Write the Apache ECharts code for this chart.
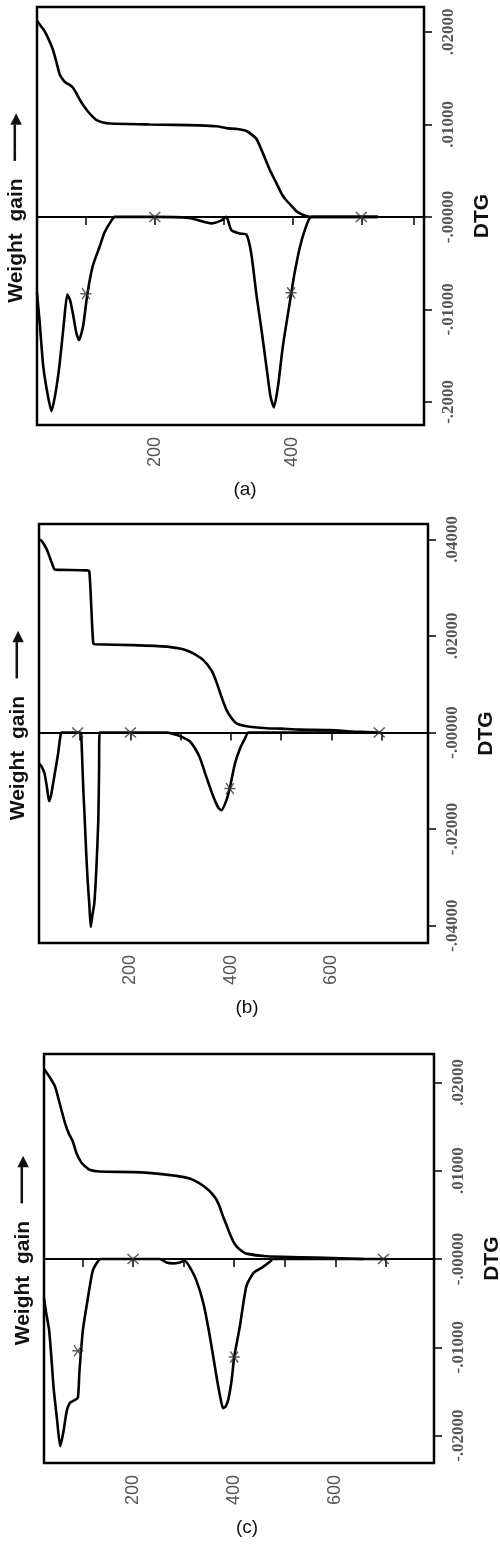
<!DOCTYPE html>
<html><head><meta charset="utf-8">
<script src="https://cdn.jsdelivr.net/npm/echarts@6/dist/echarts.min.js"></script>
<style>html,body{margin:0;padding:0;background:#fff}#c{width:500px;height:1560px}</style>
</head><body><div id="c"></div>
<script>
// ---------- Panel (a) ----------
const dtgA = [[29,-0.0082],[33,-0.0115],[38,-0.0161],[44,-0.019],[50,-0.021],[56,-0.019],[62,-0.0158],[68,-0.0115],[73,-0.0084],[77,-0.009],[81,-0.0104],[86,-0.0125],[90,-0.0133],[96,-0.0118],[102,-0.0084],[110,-0.0053],[120,-0.0032],[127,-0.0017],[137,-0.0004],[142,0],[200,0],[250,-0.0001],[265,-0.0004],[282,-0.0007],[296,-0.0004],[304,0],[311,-0.0014],[323,-0.0018],[333,-0.0019],[340,-0.0039],[348,-0.0086],[355,-0.0122],[362,-0.0161],[368,-0.0194],[373,-0.0206],[379,-0.0183],[386,-0.014],[396,-0.0093],[403,-0.0061],[411,-0.0032],[418,-0.0014],[425,-0.0001],[430,0],[524,0]];
const tgA = [[29,0.0212],[35,0.0206],[40,0.0201],[46,0.0192],[52,0.0181],[57,0.0168],[62,0.0154],[67,0.0148],[71,0.0145],[76,0.0143],[81,0.014],[86,0.0134],[91,0.0127],[97,0.012],[103,0.0114],[109,0.0109],[115,0.0105],[125,0.0102],[135,0.0101],[193,0.01],[265,0.0099],[290,0.0098],[304,0.0096],[320,0.0095],[333,0.0093],[341,0.0089],[348,0.0084],[357,0.0069],[367,0.0051],[377,0.0036],[385,0.0024],[391,0.0018],[401,0.001],[406,0.0006],[413,0.0003],[420,0.0001],[428,0],[524,0]];
const crossA = [[200,0],[500,0]];
const starA = [[100,-0.0083],[398,-0.0082]];
const tempRangeA = [29, 591];
const dtgRangeA = [-0.0225, 0.0227];
const tempTicksA = [29,100,200,300,400,500,576];
const tempLabelsA = [200,400];
const dtgTicksA = [-0.02,-0.01,0,0.01,0.02];
const dtgLabelsA = ['-.2000','-.01000','-.00000','.01000','.02000'];

// ---------- Panel (b) ----------
const dtgB = [[18,-0.0064],[24,-0.0072],[29,-0.0085],[34,-0.0115],[38,-0.0142],[42,-0.013],[46,-0.0106],[51,-0.0075],[56,-0.0044],[60,-0.0012],[63,0],[100,0],[102,-0.0005],[106,-0.0113],[109,-0.018],[112,-0.0251],[115,-0.031],[118,-0.0354],[121,-0.0403],[124,-0.038],[128,-0.0354],[132,-0.0285],[136,-0.0182],[137.5,-0.008],[138.5,0],[272,0],[285,-0.0003],[298,-0.0007],[308,-0.0012],[318,-0.0018],[328,-0.0032],[338,-0.0052],[351,-0.0092],[365,-0.0133],[375,-0.0156],[381,-0.0161],[391,-0.014],[398,-0.0113],[408,-0.0064],[418,-0.0033],[428,-0.0012],[435,0],[700,0]];
const tgB = [[18,0.04],[24,0.0396],[29,0.0388],[34,0.0378],[39,0.0364],[44,0.035],[49,0.0338],[60,0.0337],[112,0.0336],[118,0.0334],[122,0.026],[126,0.0184],[130,0.0183],[205,0.0181],[272,0.0178],[298,0.0174],[312,0.017],[325,0.0164],[345,0.015],[361,0.0129],[371,0.0105],[381,0.0074],[391,0.0047],[401,0.003],[411,0.0019],[431,0.0013],[471,0.0009],[498,0.0008],[538,0.0006],[597,0.0005],[644,0.0002],[670,0.0001],[690,0]];
const crossB = [[95,0],[200,0],[695,0]];
const starB = [[398,-0.0116]];
const tempRangeB = [18, 792];
const dtgRangeB = [-0.0436, 0.0432];
const tempTicksB = [100,200,300,400,500,600,700,792];
const tempLabelsB = [200,400,600];
const dtgTicksB = [-0.04,-0.02,0,0.02,0.04];
const dtgLabelsB = ['-.04000','-.02000','-.00000','.02000','.04000'];

// ---------- Panel (c) ----------
const dtgC = [[24,-0.0044],[28,-0.006],[34,-0.008],[38,-0.0107],[43,-0.0146],[50,-0.0183],[56,-0.0212],[62,-0.0197],[69,-0.0172],[75,-0.0163],[84,-0.016],[91,-0.0157],[94,-0.0128],[101,-0.008],[110,-0.0047],[120,-0.0014],[129,-0.0004],[136,0],[253,0],[266,-0.0004],[279,-0.0005],[292,-0.0004],[302,-0.0002],[312,-0.0009],[325,-0.0024],[339,-0.005],[352,-0.0088],[365,-0.0133],[372,-0.0155],[378,-0.0169],[383,-0.0167],[388,-0.016],[395,-0.0137],[400,-0.0111],[411,-0.0077],[424,-0.0031],[438,-0.0016],[457,-0.0009],[471,-0.0003],[476,0],[700,0]];
const tgC = [[24,0.0215],[35,0.0206],[46,0.0195],[55,0.0176],[65,0.0155],[73,0.0142],[81,0.0133],[88,0.012],[98,0.0109],[105,0.0105],[114,0.0101],[133,0.0099],[216,0.0098],[286,0.0094],[312,0.0091],[330,0.0086],[345,0.008],[356,0.0074],[365,0.0067],[372,0.0058],[378,0.0048],[385,0.0038],[391,0.0029],[398,0.002],[405,0.0014],[415,0.0009],[424,0.0006],[464,0.0003],[530,0.0002],[596,0.0001],[655,0]];
const crossC = [[200,0],[695,0]];
const starC = [[91,-0.0104],[400,-0.0111]];
const tempRangeC = [24, 795];
const dtgRangeC = [-0.0231, 0.0232];
const tempTicksC = [100,200,300,400,500,600,700];
const tempLabelsC = [200,400,600];
const dtgTicksC = [-0.02,-0.01,0,0.01,0.02];
const dtgLabelsC = ['-.02000','-.01000','-.00000','.01000','.02000'];

const panelNames = ['(a)','(b)','(c)'];
const yTitle = 'Weight  gain   {arr|\u2501\u2501\u2501\u2501\u25B6}';
const rightTitle = 'DTG';

const panels = [
  {grid:{left:37,top:7,width:387,height:418}, namePad:29, dtg:dtgA, tg:tgA, cross:crossA, star:starA, tr:tempRangeA, dr:dtgRangeA, tt:tempTicksA, tl:tempLabelsA, dt:dtgTicksA, dl:dtgLabelsA},
  {grid:{left:39,top:524,width:389,height:419}, namePad:27, dtg:dtgB, tg:tgB, cross:crossB, star:starB, tr:tempRangeB, dr:dtgRangeB, tt:tempTicksB, tl:tempLabelsB, dt:dtgTicksB, dl:dtgLabelsB},
  {grid:{left:44,top:1054,width:390,height:409}, namePad:16, dtg:dtgC, tg:tgC, cross:crossC, star:starC, tr:tempRangeC, dr:dtgRangeC, tt:tempTicksC, tl:tempLabelsC, dt:dtgTicksC, dl:dtgLabelsC}
];

const crossPath = 'path://M0,0L10,10M10,0L0,10';
const starPath = 'path://M0,5L10,5M1.5,0.5L8.5,9.5M8.5,0.5L1.5,9.5';

const option = {animation:false, backgroundColor:'#fff', grid:[], xAxis:[], yAxis:[], series:[]};
panels.forEach((p,i)=>{
  option.grid.push(Object.assign({show:true, borderColor:'#000', borderWidth:2.5, containLabel:false, outerBoundsMode:'none'}, p.grid));
  option.xAxis.push({
    type:'value', gridIndex:i, min:p.tr[0], max:p.tr[1], position:'bottom',
    axisLine:{show:false}, splitLine:{show:false},
    axisTick:{show:true, inside:false, length:8, customValues:p.tt, lineStyle:{color:'#000', width:1.5}},
    axisLabel:{show:true, customValues:p.tl, rotate:90, margin:12, color:'#555', fontSize:18, fontFamily:'Liberation Sans'},
    name:panelNames[i], nameLocation:'middle', nameGap:55,
    nameTextStyle:{fontSize:19, color:'#111', fontFamily:'Liberation Sans', padding:[0,0,0,p.namePad]}
  });
  const dt = p.dt, dl = p.dl;
  option.yAxis.push({
    type:'value', gridIndex:i, min:p.dr[0], max:p.dr[1], position:'right',
    axisLine:{show:false}, splitLine:{show:false},
    axisTick:{show:true, inside:false, length:8, customValues:dt, lineStyle:{color:'#000', width:1.5}},
    axisLabel:{show:true, customValues:dt, rotate:90, margin:16, color:'#555', fontSize:17, fontWeight:'bold', fontFamily:'Liberation Serif',
      formatter:function(v){ for(let k=0;k<dt.length;k++){ if(Math.abs(v-dt[k])<1e-9) return dl[k]; } return ''; }},
    name:rightTitle, nameLocation:'middle', nameRotate:90, nameGap:48,
    nameTextStyle:{fontSize:21, fontWeight:'bold', color:'#111', fontFamily:'Liberation Sans'}
  });
  option.yAxis.push({
    type:'value', gridIndex:i, min:p.dr[0], max:p.dr[1], position:'left',
    axisLine:{show:false}, axisTick:{show:false}, axisLabel:{show:false}, splitLine:{show:false},
    name:yTitle, nameLocation:'middle', nameRotate:90, nameGap:10,
    nameTextStyle:{fontSize:21, fontWeight:'bold', color:'#111', fontFamily:'Liberation Sans', padding:[0,0,0,16],
      rich:{arr:{fontSize:15, fontWeight:'normal', color:'#111', fontFamily:'DejaVu Sans', lineHeight:21}}}
  });
  const yR = i*2, yL = i*2+1;
  option.series.push({
    type:'line', xAxisIndex:i, yAxisIndex:yR, data:p.dtg, showSymbol:false, smooth:0.2,
    lineStyle:{color:'#000', width:2.6}, z:3,
    markLine:{silent:true, symbol:['none','none'], label:{show:false}, data:[{yAxis:0}],
      lineStyle:{color:'#000', width:2.2, type:'solid'}}
  });
  option.series.push({
    type:'line', xAxisIndex:i, yAxisIndex:yL, data:p.tg, showSymbol:false, smooth:0.2,
    lineStyle:{color:'#000', width:2.6}, z:3
  });
  option.series.push({
    type:'scatter', xAxisIndex:i, yAxisIndex:yR, data:p.cross, symbol:crossPath, symbolSize:[11,10],
    itemStyle:{color:'transparent', borderColor:'#333', borderWidth:1.4}, z:5
  });
  option.series.push({
    type:'scatter', xAxisIndex:i, yAxisIndex:yR, data:p.star, symbol:starPath, symbolSize:[11,11],
    itemStyle:{color:'transparent', borderColor:'#333', borderWidth:1.4}, z:5
  });
});

const chart = echarts.init(document.getElementById('c'), null, {renderer:'canvas'});
chart.setOption(option);
</script>
</body></html>
